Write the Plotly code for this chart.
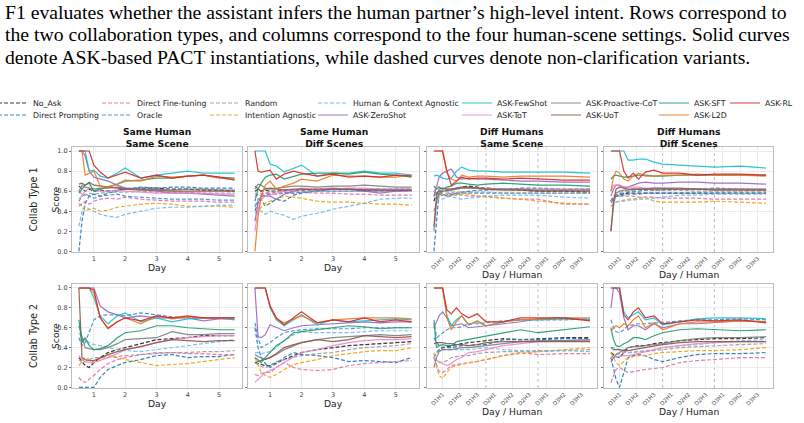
import plotly.graph_objects as go

W, H = 804, 423

CAPTION = [
    "F1 evaluates whether the assistant infers the human partner\u2019s high-level intent. Rows correspond to",
    "the two collaboration types, and columns correspond to the four human-scene settings. Solid curves",
    "denote ASK-based PACT instantiations, while dashed curves denote non-clarification variants.",
]
COL_TITLES = ["Same Human<br>Same Scene", "Same Human<br>Diff Scenes",
              "Diff Humans<br>Same Scene", "Diff Humans<br>Diff Scenes"]
ROW_TITLES = ["Collab Type 1", "Collab Type 2"]

# x positions (day axis for "Same Human" panels, day/human segment axis for "Diff Humans")
X_DAY = [0.52, 0.62, 0.72, 0.85, 1.0, 1.2, 1.45, 1.75, 2.0, 2.5, 3.0, 3.5, 4.0, 4.5, 5.0, 5.5]
X_SEG = [0.0, 0.15, 0.3, 0.5, 0.75, 1.0, 1.3, 1.6, 2.0, 2.5, 3.0, 4.0, 5.0, 6.0, 7.5, 9.0]
DAY_TICKS = [1, 2, 3, 4, 5]
SEG_TICKS = [0.5, 1.5, 2.5, 3.5, 4.5, 5.5, 6.5, 7.5, 8.5]
SEG_LABELS = ["D1H1", "D1H2", "D1H3", "D2H1", "D2H2", "D2H3", "D3H1", "D3H2", "D3H3"]
DAY_BOUNDARIES = [3, 6]
Y_TICKS = [0.0, 0.2, 0.4, 0.6, 0.8, 1.0]

# Each series: 8 panels -> CT1 (SS, SD, DS, DD), CT2 (SS, SD, DS, DD)
NO_ASK = [
    [0.65, 0.62, 0.60, 0.62, 0.60, 0.61, 0.60, 0.61, 0.62, 0.63, 0.63, 0.62, 0.62, 0.61, 0.61, 0.60],
    [0.60, 0.62, 0.60, 0.61, 0.60, 0.60, 0.61, 0.61, 0.61, 0.62, 0.62, 0.62, 0.61, 0.61, 0.61, 0.61],
    [0.50, 0.58, 0.60, 0.60, 0.61, 0.62, 0.63, 0.64, 0.65, 0.64, 0.63, 0.62, 0.61, 0.60, 0.60, 0.59],
    [0.50, 0.55, 0.56, 0.57, 0.57, 0.58, 0.58, 0.58, 0.58, 0.58, 0.58, 0.58, 0.58, 0.58, 0.58, 0.58],
    [0.30, 0.26, 0.22, 0.20, 0.25, 0.30, 0.35, 0.38, 0.40, 0.44, 0.48, 0.49, 0.50, 0.52, 0.52, 0.52],
    [0.25, 0.24, 0.23, 0.22, 0.22, 0.25, 0.28, 0.32, 0.35, 0.38, 0.40, 0.42, 0.43, 0.44, 0.45, 0.46],
    [0.30, 0.35, 0.38, 0.40, 0.41, 0.42, 0.43, 0.44, 0.45, 0.46, 0.47, 0.49, 0.48, 0.49, 0.50, 0.50],
    [0.35, 0.33, 0.31, 0.30, 0.35, 0.40, 0.41, 0.42, 0.42, 0.44, 0.45, 0.47, 0.48, 0.49, 0.49, 0.50],
]
DIRECT_PROMPTING = [
    [0.00, 0.30, 0.48, 0.55, 0.57, 0.55, 0.58, 0.60, 0.62, 0.64, 0.63, 0.64, 0.64, 0.63, 0.63, 0.63],
    [0.40, 0.50, 0.52, 0.45, 0.48, 0.52, 0.50, 0.56, 0.58, 0.60, 0.62, 0.62, 0.62, 0.62, 0.62, 0.62],
    [0.00, 0.35, 0.60, 0.57, 0.55, 0.56, 0.58, 0.59, 0.60, 0.61, 0.61, 0.62, 0.63, 0.63, 0.62, 0.62],
    [0.50, 0.53, 0.55, 0.56, 0.58, 0.59, 0.60, 0.60, 0.61, 0.61, 0.61, 0.62, 0.62, 0.63, 0.62, 0.61],
    [0.00, 0.00, 0.00, 0.00, 0.00, 0.10, 0.18, 0.22, 0.25, 0.28, 0.32, 0.33, 0.30, 0.31, 0.31, 0.33],
    [0.60, 0.40, 0.30, 0.24, 0.20, 0.24, 0.30, 0.35, 0.33, 0.32, 0.30, 0.26, 0.27, 0.26, 0.25, 0.30],
    [0.50, 0.45, 0.42, 0.40, 0.40, 0.40, 0.41, 0.42, 0.42, 0.43, 0.43, 0.48, 0.48, 0.48, 0.49, 0.49],
    [0.30, 0.20, 0.08, 0.00, 0.15, 0.30, 0.32, 0.33, 0.32, 0.28, 0.26, 0.30, 0.33, 0.34, 0.34, 0.35],
]
DIRECT_FINETUNING = [
    [0.45, 0.48, 0.50, 0.47, 0.50, 0.52, 0.53, 0.52, 0.54, 0.52, 0.51, 0.50, 0.50, 0.50, 0.49, 0.49],
    [0.55, 0.57, 0.58, 0.57, 0.58, 0.59, 0.59, 0.58, 0.59, 0.58, 0.58, 0.57, 0.57, 0.56, 0.56, 0.56],
    [0.40, 0.50, 0.55, 0.56, 0.57, 0.58, 0.57, 0.56, 0.55, 0.55, 0.55, 0.53, 0.52, 0.52, 0.47, 0.47],
    [0.48, 0.52, 0.55, 0.55, 0.55, 0.55, 0.55, 0.54, 0.54, 0.54, 0.53, 0.53, 0.53, 0.52, 0.52, 0.52],
    [0.10, 0.06, 0.05, 0.08, 0.12, 0.18, 0.24, 0.28, 0.30, 0.33, 0.35, 0.35, 0.34, 0.34, 0.33, 0.33],
    [0.13, 0.12, 0.14, 0.15, 0.15, 0.20, 0.25, 0.20, 0.18, 0.17, 0.18, 0.22, 0.24, 0.25, 0.26, 0.27],
    [0.30, 0.22, 0.16, 0.15, 0.18, 0.22, 0.23, 0.24, 0.25, 0.26, 0.28, 0.32, 0.35, 0.33, 0.34, 0.34],
    [0.05, 0.12, 0.18, 0.20, 0.17, 0.15, 0.16, 0.17, 0.18, 0.19, 0.20, 0.25, 0.27, 0.28, 0.30, 0.30],
]
ORACLE = [
    [0.50, 0.55, 0.57, 0.55, 0.53, 0.55, 0.56, 0.57, 0.55, 0.54, 0.53, 0.52, 0.52, 0.52, 0.51, 0.51],
    [0.45, 0.52, 0.55, 0.56, 0.57, 0.57, 0.58, 0.58, 0.59, 0.60, 0.60, 0.60, 0.60, 0.60, 0.60, 0.60],
    [0.55, 0.58, 0.57, 0.56, 0.56, 0.57, 0.57, 0.58, 0.58, 0.58, 0.58, 0.58, 0.58, 0.58, 0.58, 0.58],
    [0.50, 0.53, 0.55, 0.55, 0.56, 0.57, 0.57, 0.57, 0.58, 0.58, 0.58, 0.58, 0.58, 0.58, 0.58, 0.58],
    [0.50, 0.42, 0.45, 0.55, 0.68, 0.72, 0.73, 0.73, 0.72, 0.75, 0.73, 0.71, 0.70, 0.70, 0.70, 0.70],
    [0.65, 0.50, 0.40, 0.42, 0.45, 0.50, 0.55, 0.57, 0.58, 0.59, 0.59, 0.59, 0.60, 0.60, 0.60, 0.60],
    [0.68, 0.50, 0.52, 0.55, 0.58, 0.60, 0.60, 0.61, 0.64, 0.64, 0.65, 0.67, 0.68, 0.68, 0.68, 0.69],
    [0.68, 0.60, 0.56, 0.55, 0.58, 0.62, 0.63, 0.64, 0.64, 0.65, 0.65, 0.67, 0.68, 0.68, 0.69, 0.68],
]
RANDOM = [
    [0.60, 0.57, 0.56, 0.58, 0.57, 0.58, 0.59, 0.59, 0.59, 0.60, 0.59, 0.59, 0.59, 0.58, 0.58, 0.58],
    [0.58, 0.55, 0.56, 0.58, 0.59, 0.60, 0.60, 0.60, 0.60, 0.60, 0.60, 0.60, 0.60, 0.60, 0.60, 0.60],
    [0.60, 0.58, 0.58, 0.58, 0.58, 0.59, 0.59, 0.59, 0.59, 0.59, 0.59, 0.58, 0.58, 0.58, 0.58, 0.58],
    [0.50, 0.53, 0.56, 0.58, 0.60, 0.60, 0.61, 0.62, 0.62, 0.61, 0.61, 0.61, 0.60, 0.60, 0.60, 0.60],
    [0.28, 0.25, 0.26, 0.28, 0.30, 0.30, 0.30, 0.31, 0.32, 0.33, 0.34, 0.35, 0.35, 0.36, 0.36, 0.37],
    [0.25, 0.23, 0.21, 0.20, 0.22, 0.26, 0.28, 0.30, 0.32, 0.34, 0.35, 0.38, 0.40, 0.41, 0.42, 0.44],
    [0.30, 0.27, 0.26, 0.25, 0.27, 0.30, 0.31, 0.32, 0.32, 0.34, 0.35, 0.36, 0.36, 0.36, 0.37, 0.38],
    [0.30, 0.32, 0.33, 0.34, 0.35, 0.35, 0.35, 0.36, 0.36, 0.37, 0.38, 0.40, 0.41, 0.42, 0.43, 0.44],
]
INTENTION_AGNOSTIC = [
    [0.48, 0.45, 0.40, 0.42, 0.43, 0.40, 0.41, 0.44, 0.45, 0.47, 0.48, 0.47, 0.45, 0.45, 0.45, 0.44],
    [0.38, 0.40, 0.44, 0.48, 0.50, 0.52, 0.55, 0.54, 0.53, 0.50, 0.49, 0.49, 0.48, 0.47, 0.47, 0.46],
    [0.55, 0.60, 0.58, 0.56, 0.55, 0.55, 0.56, 0.57, 0.57, 0.55, 0.54, 0.53, 0.52, 0.50, 0.48, 0.47],
    [0.45, 0.47, 0.49, 0.50, 0.51, 0.52, 0.52, 0.53, 0.54, 0.50, 0.49, 0.49, 0.49, 0.50, 0.49, 0.48],
    [0.22, 0.26, 0.30, 0.28, 0.25, 0.29, 0.32, 0.30, 0.28, 0.25, 0.22, 0.23, 0.24, 0.26, 0.28, 0.30],
    [0.30, 0.22, 0.15, 0.12, 0.10, 0.13, 0.18, 0.23, 0.25, 0.28, 0.32, 0.34, 0.36, 0.37, 0.37, 0.40],
    [0.35, 0.20, 0.12, 0.09, 0.15, 0.20, 0.22, 0.23, 0.25, 0.26, 0.28, 0.32, 0.34, 0.36, 0.38, 0.40],
    [0.35, 0.30, 0.25, 0.22, 0.26, 0.30, 0.31, 0.32, 0.32, 0.34, 0.35, 0.36, 0.37, 0.37, 0.38, 0.40],
]
HUMAN_CONTEXT_AGNOSTIC = [
    [0.25, 0.40, 0.45, 0.42, 0.40, 0.37, 0.35, 0.34, 0.37, 0.40, 0.43, 0.44, 0.44, 0.45, 0.46, 0.46],
    [0.45, 0.42, 0.40, 0.37, 0.40, 0.38, 0.36, 0.32, 0.35, 0.38, 0.42, 0.45, 0.48, 0.52, 0.53, 0.53],
    [0.60, 0.55, 0.52, 0.52, 0.54, 0.55, 0.53, 0.52, 0.53, 0.54, 0.55, 0.56, 0.56, 0.56, 0.54, 0.53],
    [0.45, 0.47, 0.49, 0.50, 0.50, 0.51, 0.51, 0.52, 0.52, 0.53, 0.54, 0.56, 0.56, 0.57, 0.57, 0.57],
    [0.55, 0.50, 0.47, 0.45, 0.43, 0.42, 0.40, 0.38, 0.37, 0.36, 0.38, 0.40, 0.42, 0.44, 0.46, 0.48],
    [0.35, 0.35, 0.34, 0.35, 0.36, 0.40, 0.47, 0.53, 0.56, 0.55, 0.55, 0.55, 0.56, 0.57, 0.57, 0.57],
    [0.30, 0.35, 0.37, 0.38, 0.38, 0.38, 0.38, 0.38, 0.38, 0.39, 0.40, 0.38, 0.37, 0.37, 0.37, 0.36],
    [0.40, 0.40, 0.39, 0.38, 0.36, 0.35, 0.36, 0.36, 0.37, 0.38, 0.40, 0.42, 0.43, 0.45, 0.47, 0.48],
]
ASK_ZEROSHOT = [
    [1.00, 1.00, 0.95, 0.80, 0.74, 0.72, 0.70, 0.66, 0.63, 0.62, 0.60, 0.58, 0.58, 0.57, 0.56, 0.55],
    [0.30, 0.48, 0.55, 0.55, 0.55, 0.52, 0.57, 0.60, 0.62, 0.62, 0.63, 0.62, 0.60, 0.58, 0.60, 0.61],
    [0.55, 0.65, 0.74, 0.78, 0.80, 0.82, 0.74, 0.72, 0.73, 0.72, 0.72, 0.71, 0.70, 0.70, 0.69, 0.69],
    [0.55, 0.62, 0.66, 0.66, 0.64, 0.64, 0.66, 0.68, 0.69, 0.68, 0.68, 0.69, 0.69, 0.68, 0.68, 0.67],
    [1.00, 1.00, 1.00, 1.00, 1.00, 0.82, 0.76, 0.73, 0.70, 0.72, 0.70, 0.70, 0.70, 0.67, 0.69, 0.69],
    [1.00, 0.51, 0.50, 0.53, 0.63, 0.60, 0.57, 0.60, 0.62, 0.63, 0.64, 0.65, 0.66, 0.65, 0.66, 0.66],
    [0.60, 0.66, 0.72, 0.76, 0.70, 0.62, 0.63, 0.64, 0.60, 0.61, 0.62, 0.64, 0.66, 0.69, 0.70, 0.68],
    [0.80, 1.00, 1.00, 0.95, 0.70, 0.58, 0.62, 0.62, 0.58, 0.64, 0.60, 0.64, 0.64, 0.65, 0.67, 0.66],
]
ASK_FEWSHOT = [
    [1.00, 1.00, 1.00, 0.80, 0.81, 0.75, 0.73, 0.78, 0.83, 0.73, 0.76, 0.78, 0.80, 0.78, 0.78, 0.78],
    [1.00, 1.00, 1.00, 1.00, 0.87, 0.85, 0.79, 0.83, 0.86, 0.75, 0.78, 0.78, 0.80, 0.78, 0.78, 0.76],
    [0.75, 0.76, 0.75, 0.73, 0.72, 0.73, 0.80, 0.84, 0.81, 0.80, 0.80, 0.79, 0.79, 0.79, 0.79, 0.78],
    [1.00, 1.00, 1.00, 1.00, 1.00, 0.91, 0.91, 0.92, 0.92, 0.89, 0.87, 0.86, 0.85, 0.84, 0.85, 0.83],
    [1.00, 1.00, 1.00, 1.00, 0.90, 0.72, 0.64, 0.72, 0.75, 0.66, 0.70, 0.66, 0.69, 0.70, 0.70, 0.68],
    [1.00, 1.00, 1.00, 1.00, 0.80, 0.68, 0.62, 0.68, 0.73, 0.63, 0.68, 0.66, 0.67, 0.68, 0.69, 0.68],
    [1.00, 1.00, 1.00, 1.00, 0.72, 0.62, 0.68, 0.72, 0.63, 0.66, 0.62, 0.66, 0.68, 0.68, 0.69, 0.68],
    [1.00, 1.00, 1.00, 1.00, 0.76, 0.70, 0.73, 0.76, 0.68, 0.70, 0.63, 0.66, 0.69, 0.70, 0.70, 0.69],
]
ASK_TOT = [
    [0.52, 0.56, 0.60, 0.63, 0.61, 0.60, 0.60, 0.61, 0.60, 0.59, 0.58, 0.58, 0.58, 0.58, 0.57, 0.57],
    [0.20, 0.42, 0.52, 0.55, 0.56, 0.58, 0.60, 0.61, 0.63, 0.62, 0.62, 0.63, 0.63, 0.62, 0.62, 0.62],
    [0.60, 0.65, 0.64, 0.62, 0.62, 0.62, 0.63, 0.63, 0.63, 0.63, 0.63, 0.62, 0.62, 0.62, 0.62, 0.62],
    [0.60, 0.66, 0.66, 0.65, 0.64, 0.64, 0.64, 0.64, 0.63, 0.63, 0.63, 0.62, 0.62, 0.62, 0.62, 0.62],
    [0.32, 0.28, 0.26, 0.25, 0.25, 0.27, 0.30, 0.34, 0.38, 0.41, 0.45, 0.48, 0.50, 0.51, 0.52, 0.52],
    [0.05, 0.08, 0.12, 0.15, 0.17, 0.20, 0.25, 0.30, 0.35, 0.38, 0.42, 0.45, 0.47, 0.48, 0.48, 0.49],
    [0.30, 0.27, 0.25, 0.24, 0.22, 0.24, 0.28, 0.30, 0.35, 0.36, 0.38, 0.42, 0.44, 0.46, 0.47, 0.47],
    [0.30, 0.30, 0.31, 0.31, 0.32, 0.32, 0.33, 0.34, 0.36, 0.38, 0.40, 0.42, 0.44, 0.45, 0.46, 0.46],
]
ASK_PROACTIVE_COT = [
    [0.60, 0.66, 0.64, 0.63, 0.62, 0.63, 0.63, 0.64, 0.63, 0.62, 0.62, 0.61, 0.62, 0.62, 0.61, 0.61],
    [0.62, 0.67, 0.66, 0.63, 0.62, 0.63, 0.64, 0.65, 0.65, 0.64, 0.65, 0.65, 0.66, 0.65, 0.64, 0.64],
    [0.20, 0.50, 0.58, 0.60, 0.60, 0.61, 0.62, 0.63, 0.63, 0.63, 0.62, 0.62, 0.62, 0.61, 0.61, 0.61],
    [0.20, 0.45, 0.58, 0.60, 0.61, 0.61, 0.62, 0.62, 0.62, 0.63, 0.63, 0.63, 0.62, 0.62, 0.62, 0.62],
    [0.62, 0.50, 0.40, 0.39, 0.38, 0.38, 0.40, 0.44, 0.48, 0.49, 0.50, 0.56, 0.53, 0.53, 0.54, 0.54],
    [0.33, 0.31, 0.30, 0.28, 0.30, 0.33, 0.38, 0.42, 0.45, 0.48, 0.50, 0.51, 0.52, 0.53, 0.52, 0.53],
    [0.20, 0.30, 0.36, 0.38, 0.38, 0.38, 0.39, 0.40, 0.40, 0.41, 0.42, 0.44, 0.46, 0.47, 0.47, 0.48],
    [0.25, 0.30, 0.33, 0.35, 0.38, 0.40, 0.41, 0.41, 0.42, 0.43, 0.44, 0.47, 0.49, 0.50, 0.50, 0.51],
]
ASK_UOT = [
    [0.67, 0.68, 0.66, 0.69, 0.66, 0.65, 0.64, 0.63, 0.62, 0.61, 0.61, 0.60, 0.60, 0.60, 0.60, 0.60],
    [0.65, 0.62, 0.60, 0.62, 0.63, 0.62, 0.61, 0.62, 0.62, 0.61, 0.62, 0.62, 0.61, 0.61, 0.61, 0.61],
    [0.25, 0.55, 0.62, 0.63, 0.62, 0.62, 0.63, 0.64, 0.64, 0.63, 0.62, 0.61, 0.61, 0.60, 0.60, 0.60],
    [0.20, 0.50, 0.62, 0.64, 0.63, 0.62, 0.62, 0.62, 0.62, 0.62, 0.62, 0.62, 0.62, 0.61, 0.61, 0.61],
    [1.00, 0.30, 0.28, 0.27, 0.27, 0.30, 0.33, 0.36, 0.38, 0.41, 0.45, 0.48, 0.47, 0.46, 0.47, 0.47],
    [0.25, 0.26, 0.27, 0.28, 0.30, 0.34, 0.40, 0.43, 0.45, 0.48, 0.46, 0.48, 0.52, 0.51, 0.50, 0.51],
    [0.44, 0.45, 0.45, 0.45, 0.44, 0.44, 0.43, 0.43, 0.42, 0.43, 0.45, 0.46, 0.46, 0.46, 0.46, 0.46],
    [0.40, 0.38, 0.38, 0.38, 0.37, 0.37, 0.38, 0.39, 0.40, 0.42, 0.43, 0.45, 0.46, 0.46, 0.46, 0.46],
]
ASK_SFT = [
    [0.58, 0.62, 0.66, 0.68, 0.60, 0.62, 0.64, 0.67, 0.70, 0.71, 0.73, 0.73, 0.75, 0.76, 0.74, 0.73],
    [0.50, 0.62, 0.68, 0.74, 0.76, 0.77, 0.72, 0.75, 0.77, 0.78, 0.78, 0.77, 0.79, 0.77, 0.76, 0.74],
    [0.65, 0.62, 0.64, 0.62, 0.64, 0.65, 0.68, 0.68, 0.67, 0.66, 0.67, 0.68, 0.67, 0.66, 0.66, 0.65],
    [0.72, 0.75, 0.76, 0.75, 0.74, 0.74, 0.75, 0.76, 0.76, 0.75, 0.75, 0.76, 0.76, 0.76, 0.76, 0.76],
    [0.68, 0.45, 0.50, 0.42, 0.38, 0.39, 0.42, 0.50, 0.55, 0.57, 0.62, 0.62, 0.60, 0.59, 0.58, 0.58],
    [0.30, 0.27, 0.25, 0.30, 0.35, 0.42, 0.47, 0.55, 0.56, 0.58, 0.60, 0.62, 0.61, 0.59, 0.60, 0.60],
    [0.65, 0.40, 0.42, 0.43, 0.42, 0.42, 0.46, 0.47, 0.48, 0.50, 0.52, 0.55, 0.58, 0.55, 0.58, 0.61],
    [0.60, 0.48, 0.42, 0.41, 0.44, 0.46, 0.50, 0.50, 0.48, 0.52, 0.55, 0.58, 0.59, 0.58, 0.57, 0.58],
]
ASK_L2D = [
    [1.00, 1.00, 0.76, 0.78, 0.80, 0.65, 0.64, 0.67, 0.71, 0.70, 0.75, 0.74, 0.75, 0.76, 0.73, 0.72],
    [0.00, 0.35, 0.55, 0.66, 0.70, 0.62, 0.65, 0.68, 0.72, 0.70, 0.76, 0.75, 0.75, 0.74, 0.74, 0.76],
    [1.00, 1.00, 1.00, 1.00, 0.78, 0.72, 0.70, 0.76, 0.74, 0.75, 0.75, 0.74, 0.75, 0.75, 0.75, 0.74],
    [0.60, 0.74, 0.80, 0.78, 0.72, 0.70, 0.75, 0.78, 0.75, 0.75, 0.76, 0.76, 0.77, 0.76, 0.76, 0.75],
    [1.00, 1.00, 1.00, 1.00, 0.95, 0.70, 0.60, 0.66, 0.70, 0.64, 0.72, 0.69, 0.71, 0.70, 0.70, 0.70],
    [1.00, 1.00, 1.00, 1.00, 0.82, 0.69, 0.65, 0.69, 0.72, 0.65, 0.68, 0.69, 0.70, 0.70, 0.70, 0.69],
    [1.00, 1.00, 1.00, 1.00, 0.70, 0.58, 0.66, 0.72, 0.63, 0.67, 0.62, 0.66, 0.68, 0.69, 0.70, 0.70],
    [0.56, 0.60, 0.62, 0.60, 0.64, 0.62, 0.68, 0.72, 0.60, 0.65, 0.58, 0.64, 0.66, 0.66, 0.67, 0.66],
]
ASK_RL = [
    [1.00, 1.00, 1.00, 1.00, 0.86, 0.79, 0.73, 0.76, 0.79, 0.73, 0.76, 0.73, 0.75, 0.76, 0.74, 0.71],
    [1.00, 0.80, 0.79, 0.80, 0.81, 0.72, 0.77, 0.80, 0.78, 0.75, 0.77, 0.74, 0.75, 0.74, 0.76, 0.75],
    [1.00, 1.00, 1.00, 1.00, 0.80, 0.66, 0.70, 0.74, 0.72, 0.73, 0.73, 0.72, 0.73, 0.72, 0.71, 0.71],
    [1.00, 1.00, 1.00, 1.00, 0.80, 0.73, 0.78, 0.72, 0.79, 0.81, 0.78, 0.78, 0.76, 0.77, 0.77, 0.76],
    [1.00, 1.00, 1.00, 1.00, 0.98, 0.70, 0.59, 0.66, 0.70, 0.67, 0.72, 0.70, 0.72, 0.70, 0.70, 0.70],
    [1.00, 1.00, 1.00, 1.00, 0.82, 0.70, 0.63, 0.70, 0.76, 0.65, 0.68, 0.66, 0.70, 0.66, 0.68, 0.66],
    [1.00, 1.00, 1.00, 1.00, 0.78, 0.74, 0.80, 0.74, 0.70, 0.74, 0.66, 0.66, 0.70, 0.70, 0.70, 0.67],
    [1.00, 1.00, 1.00, 1.00, 0.73, 0.68, 0.76, 0.80, 0.70, 0.72, 0.64, 0.66, 0.68, 0.67, 0.68, 0.65],
]

# (name, data, colour, dashed) in legend order (column-major)
SERIES = [
    ("No_Ask", NO_ASK, "#222222", True),
    ("Direct Prompting", DIRECT_PROMPTING, "#1f77b4", True),
    ("Direct Fine-tuning", DIRECT_FINETUNING, "#dd6fa8", True),
    ("Oracle", ORACLE, "#3d8fd1", True),
    ("Random", RANDOM, "#9a9a9a", True),
    ("Intention Agnostic", INTENTION_AGNOSTIC, "#f2a10f", True),
    ("Human & Context Agnostic", HUMAN_CONTEXT_AGNOSTIC, "#6db8ee", True),
    ("ASK-ZeroShot", ASK_ZEROSHOT, "#9467bd", False),
    ("ASK-FewShot", ASK_FEWSHOT, "#17becf", False),
    ("ASK-ToT", ASK_TOT, "#ee88cc", False),
    ("ASK-Proactive-CoT", ASK_PROACTIVE_COT, "#7f7f7f", False),
    ("ASK-UoT", ASK_UOT, "#8c564b", False),
    ("ASK-SFT", ASK_SFT, "#1b9a6e", False),
    ("ASK-L2D", ASK_L2D, "#ee7a1e", False),
    ("ASK-RL", ASK_RL, "#d62728", False),
]

# layout geometry (pixels)
PANEL_X = [(72, 242), (248, 419), (427, 597), (604, 773)]
PANEL_Y = [(147, 252), (284, 388)]
LEG_TEXT_X = [33, 137, 245, 353, 497, 586, 694, 765]
LEG_ROW_Y = [103, 115]

FONT = "DejaVu Sans"
GRID = "#ececec"
FRAME = "#bdbdbd"

fig = go.Figure()

leg_ids = ["legend" if i == 0 else f"legend{i + 1}" for i in range(len(SERIES))]

for r in range(2):
    for c in range(4):
        p = r * 4 + c
        k = p + 1
        sx = "" if k == 1 else str(k)
        xs = X_DAY if c < 2 else X_SEG
        for i, (name, data, color, dashed) in enumerate(SERIES):
            fig.add_trace(go.Scatter(
                x=xs, y=data[p], mode="lines", name=name,
                line=dict(color=color, width=1.2, dash="4px,2px" if dashed else "solid"),
                opacity=0.9, xaxis="x" + sx, yaxis="y" + sx,
                showlegend=(p == 0), legend=leg_ids[i], hoverinfo="skip",
            ))

layout = dict(
    width=W, height=H, margin=dict(l=0, r=0, t=0, b=0, autoexpand=False),
    paper_bgcolor="white", plot_bgcolor="white",
    font=dict(family=FONT, color="#222"),
)

for r in range(2):
    for c in range(4):
        k = r * 4 + c + 1
        sx = "" if k == 1 else str(k)
        x0, x1 = PANEL_X[c]
        y0, y1 = PANEL_Y[r]
        xa = dict(
            domain=[x0 / W, x1 / W], anchor="y" + sx,
            showgrid=True, gridcolor=GRID, gridwidth=0.7, zeroline=False,
            showline=True, mirror=True, linecolor=FRAME, linewidth=1.2,
            ticks="", automargin=False,
        )
        if c < 2:
            xa.update(range=[0.30, 5.735], tickvals=DAY_TICKS,
                      ticktext=[str(t) for t in DAY_TICKS],
                      tickfont=dict(size=6.5, color="#444", family=FONT))
        else:
            xa.update(range=[-0.4, 9.4], tickvals=SEG_TICKS, ticktext=SEG_LABELS,
                      tickangle=-45, tickfont=dict(size=5.6, color="#444", family=FONT))
        ya = dict(
            domain=[1 - y1 / H, 1 - y0 / H], anchor="x" + sx,
            range=[-0.006, 1.04], tickvals=Y_TICKS,
            ticktext=[f"{t:.1f}" for t in Y_TICKS],
            showticklabels=(c == 0),
            tickfont=dict(size=6.5, color="#444", family=FONT),
            showgrid=True, gridcolor=GRID, gridwidth=0.7, zeroline=False,
            showline=True, mirror=True, linecolor=FRAME, linewidth=1.2,
            ticks="outside", ticklen=2, tickwidth=0.8, tickcolor="#777",
            automargin=False,
        )
        layout["xaxis" + sx] = xa
        layout["yaxis" + sx] = ya

# legends: one per entry so that the grid is column-major like the reference
for i, lid in enumerate(leg_ids):
    col, row = divmod(i, 2)
    layout[lid] = dict(
        x=(LEG_TEXT_X[col] - 40) / W, y=1 - LEG_ROW_Y[row] / H,
        xanchor="left", yanchor="middle", orientation="v",
        bgcolor="rgba(0,0,0,0)", borderwidth=0, itemwidth=30,
        font=dict(size=7.8, family=FONT, color="#222"),
    )

annotations = []
for j, line in enumerate(CAPTION):
    annotations.append(dict(
        text=line, x=3 / W, y=1 - (12 + 22.5 * j) / H, xref="paper", yref="paper",
        xanchor="left", yanchor="middle", showarrow=False,
        font=dict(family="Liberation Serif", size=19.7, color="black"),
    ))
for c, t in enumerate(COL_TITLES):
    x0, x1 = PANEL_X[c]
    annotations.append(dict(
        text="<b>" + t.replace("<br>", "</b><br><b>") + "</b>",
        x=(x0 + x1) / 2 / W, y=1 - 137 / H, xref="paper", yref="paper",
        xanchor="center", yanchor="middle", showarrow=False,
        font=dict(family=FONT, size=9.2, color="#111"),
    ))
for r, t in enumerate(ROW_TITLES):
    y0, y1 = PANEL_Y[r]
    yc = 1 - (y0 + y1) / 2 / H
    annotations.append(dict(
        text=t, x=33 / W, y=yc, xref="paper", yref="paper", textangle=-90,
        xanchor="center", yanchor="middle", showarrow=False,
        font=dict(family=FONT, size=9.6, color="#222"),
    ))
    annotations.append(dict(
        text="Score", x=55 / W, y=yc, xref="paper", yref="paper", textangle=-90,
        xanchor="center", yanchor="middle", showarrow=False,
        font=dict(family=FONT, size=9.2, color="#222"),
    ))
    for c in range(4):
        x0, x1 = PANEL_X[c]
        if c < 2:
            txt, ypx = "Day", (267.5 if r == 0 else 403)
        else:
            txt, ypx = "Day / Human", (274 if r == 0 else 411)
        annotations.append(dict(
            text=txt, x=(x0 + x1) / 2 / W, y=1 - ypx / H, xref="paper", yref="paper",
            xanchor="center", yanchor="middle", showarrow=False,
            font=dict(family=FONT, size=9.2, color="#222"),
        ))
layout["annotations"] = annotations

shapes = []
for r in range(2):
    for c in (2, 3):
        k = r * 4 + c + 1
        for b in DAY_BOUNDARIES:
            shapes.append(dict(
                type="line", xref=f"x{k}", yref=f"y{k} domain",
                x0=b, x1=b, y0=0, y1=1,
                line=dict(color="#b4b4b4", width=0.9, dash="dot"), layer="below",
            ))
layout["shapes"] = shapes

fig.update_layout(**layout)
fig.write_html("out.html", config={"displayModeBar": False})
